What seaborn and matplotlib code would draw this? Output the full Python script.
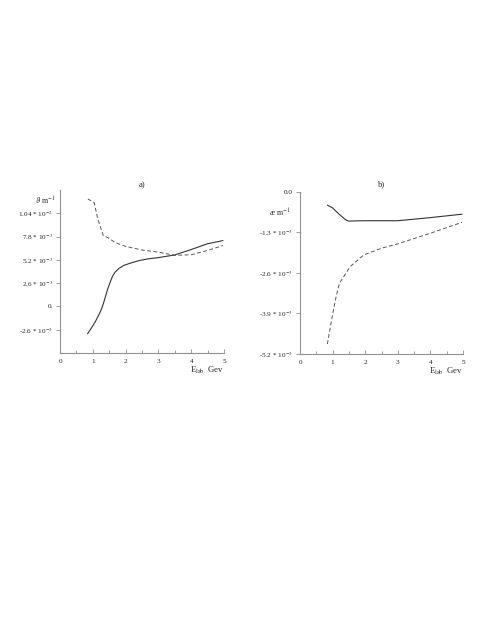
import numpy as np
import pandas as pd
import matplotlib
matplotlib.use("Agg")
import matplotlib.pyplot as plt
import seaborn as sns

# Donnees (valeurs en 1e-3 m^-1)
e_lab_a_solid = [0.84, 0.95, 1.07, 1.17, 1.27, 1.33, 1.38, 1.45, 1.53, 1.6, 1.68,
                 1.8, 1.94, 2.1, 2.24, 2.45, 2.7, 3.0, 3.5, 4.0, 4.5, 4.97]
theta_solid = [-3.05, -2.45, -1.75, -1.05, -0.26, 0.4, 1.04, 1.9, 2.71, 3.35, 3.83,
               4.25, 4.57, 4.78, 4.94, 5.15, 5.32, 5.45, 5.75, 6.35, 7.0, 7.35]

e_lab_a_dash = [0.85, 1.04, 1.15, 1.32, 1.45, 1.7, 2.0, 2.5, 3.0, 3.5, 4.0, 4.5, 4.97]
theta_dash = [12.0, 11.6, 9.8, 7.9, 7.7, 7.1, 6.7, 6.3, 6.06, 5.7, 5.77, 6.25, 6.8]

e_lab_b_solid = [0.84, 1.0, 1.2, 1.4, 1.49, 2.0, 3.0, 4.0, 4.97]
kappa_solid = [-0.43, -0.52, -0.72, -0.9, -0.94, -0.93, -0.93, -0.83, -0.72]

e_lab_b_dash = [0.84, 0.97, 1.1, 1.21, 1.54, 1.95, 2.5, 3.0, 4.0, 4.97]
kappa_dash = [-4.88, -4.1, -3.4, -2.93, -2.4, -2.03, -1.81, -1.67, -1.33, -0.98]

yticks_a = [-2.6e-3, 0.0, 2.6e-3, 5.2e-3, 7.8e-3, 1.04e-2]
ylabels_a = [r"-2.6 * 10$^{-3}$", "0.", r"2.6 * 10$^{-3}$", r"5.2 * 10$^{-3}$",
             r"7.8 * 10$^{-3}$", r"1.04 * 10$^{-2}$"]
yticks_b = [-5.2e-3, -3.9e-3, -2.6e-3, -1.3e-3, 0.0]
ylabels_b = [r"-5.2 * 10$^{-3}$", r"-3.9 * 10$^{-3}$", r"-2.6 * 10$^{-3}$",
             r"-1.3 * 10$^{-3}$", "0.0"]

sns.set_style("white")
plt.rcParams['font.family'] = ['Liberation Serif', 'DejaVu Serif']
plt.rcParams['mathtext.fontset'] = 'stix'

fig = plt.figure(figsize=(4.91, 6.35), dpi=100)
ax_a = fig.add_axes([0.1222, 0.4441, 0.334, 0.2567])
ax_b = fig.add_axes([0.611, 0.4425, 0.332, 0.2556])

axis_col = "#909090"
fs = 5.2


def prep(ax, yticks, ylabels, ylim):
    ax.set_xlim(0, 5)
    ax.set_ylim(*ylim)
    sns.despine(ax=ax)
    for s in ["left", "bottom"]:
        ax.spines[s].set_color(axis_col)
        ax.spines[s].set_linewidth(0.8)
    ax.set_xticks([0, 1, 2, 3, 4, 5])
    ax.set_xticks(np.arange(0.5, 5, 1.0), minor=True)
    ax.set_yticks(yticks)
    ax.set_yticklabels(ylabels)
    ax.tick_params(axis="x", which="both", direction="in", length=3, width=0.6,
                   color=axis_col, labelsize=fs, pad=4, bottom=True)
    ax.tick_params(axis="x", which="minor", length=2)
    ax.tick_params(axis="y", direction="out", length=3, width=0.6,
                   color=axis_col, labelsize=fs, pad=2, left=True)
    ax.set_xlabel(r"E$_{\rm lab}$  Gev", fontsize=fs + 1, loc="right", labelpad=1)
    ax.set_ylabel("")


df_as = pd.DataFrame({"E": e_lab_a_solid, "v": np.array(theta_solid) * 1e-3})
df_ad = pd.DataFrame({"E": e_lab_a_dash, "v": np.array(theta_dash) * 1e-3})
sns.lineplot(data=df_as, x="E", y="v", ax=ax_a, color="#333333", lw=0.8)
sns.lineplot(data=df_ad, x="E", y="v", ax=ax_a, color="#555555", lw=0.7, linestyle=(0, (4, 2.5)))
prep(ax_a, yticks_a, ylabels_a, (-5.2e-3, 1.3e-2))
ax_a.text(-0.03, 0.93, r"$\vartheta$ m$^{-1}$", transform=ax_a.transAxes,
          ha="right", va="center", fontsize=fs + 0.5)
ax_a.set_title("a)", fontsize=fs + 1, pad=2)

df_bs = pd.DataFrame({"E": e_lab_b_solid, "v": np.array(kappa_solid) * 1e-3})
df_bd = pd.DataFrame({"E": e_lab_b_dash, "v": np.array(kappa_dash) * 1e-3})
sns.lineplot(data=df_bs, x="E", y="v", ax=ax_b, color="#333333", lw=0.8)
sns.lineplot(data=df_bd, x="E", y="v", ax=ax_b, color="#555555", lw=0.7, linestyle=(0, (4, 2.5)))
prep(ax_b, yticks_b, ylabels_b, (-5.2e-3, 0.0))
ax_b.text(-0.06, 0.87, "æ m$^{-1}$", transform=ax_b.transAxes,
          ha="right", va="center", fontsize=fs + 0.5)
ax_b.set_title("b)", fontsize=fs + 1, pad=4)

fig.savefig("out.png", dpi=100, facecolor="white")
